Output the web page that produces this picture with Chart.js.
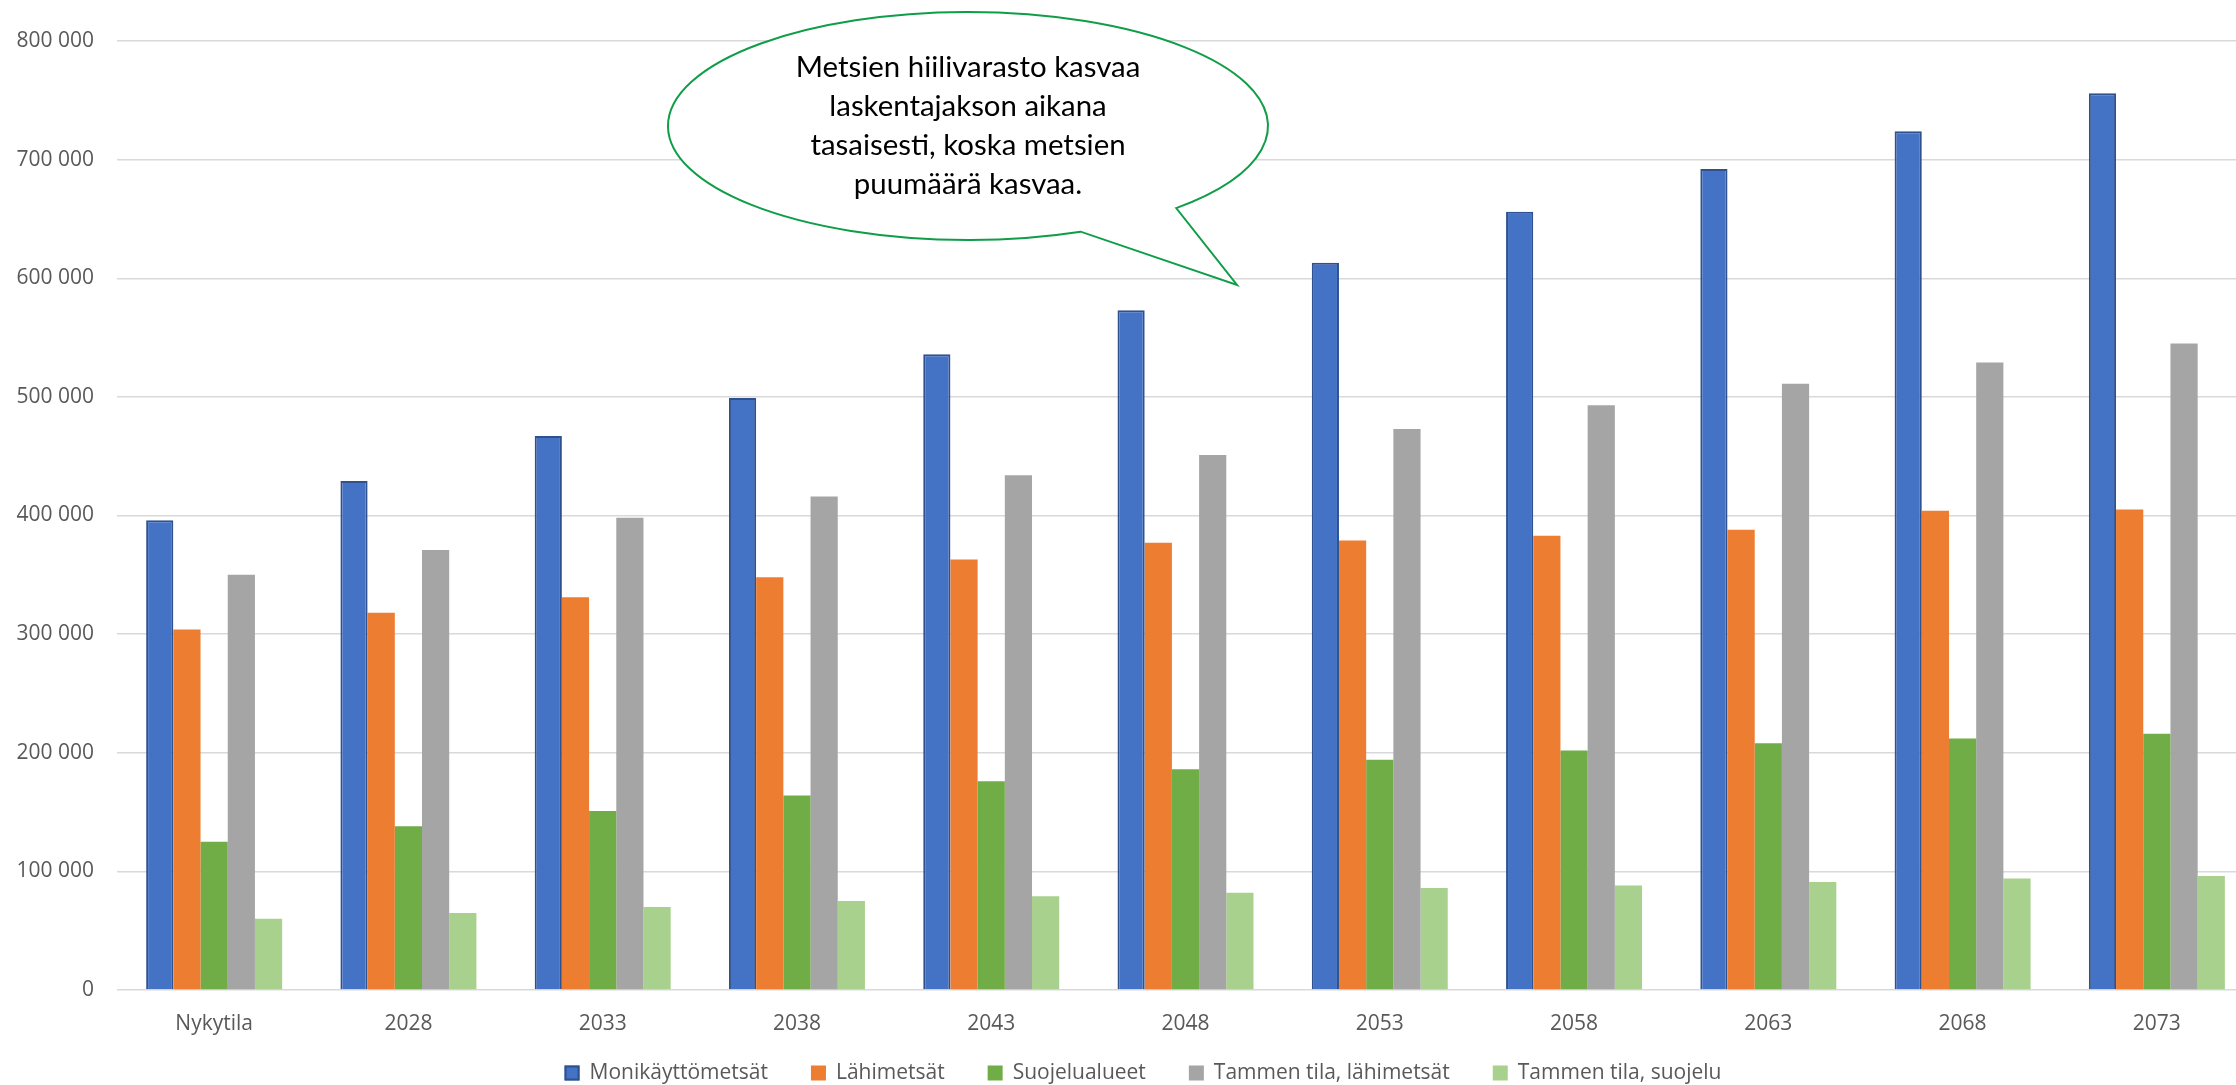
<!DOCTYPE html>
<html>
<head>
<meta charset="utf-8">
<script src="https://cdn.jsdelivr.net/npm/chart.js@4.4.0/dist/chart.umd.min.js"></script>
<style>
html, body { margin: 0; padding: 0; overflow: hidden; background: #fff; }
#wrap { width: 2286px; height: 1085px; }
</style>
</head>
<body>
<div id="wrap"><canvas id="hiili" width="2286" height="1085"></canvas></div>
<script>
const labels = ['Nykytila', '2028', '2033', '2038', '2043', '2048', '2053', '2058', '2063', '2068', '2073'];
const monikayttometsat = [396000, 429000, 467000, 499000, 536000, 573000, 613000, 656000, 692000, 724000, 756000];
const lahimetsat = [304000, 318000, 331000, 348000, 363000, 377000, 379000, 383000, 388000, 404000, 405000];
const suojelualueet = [125000, 138000, 151000, 164000, 176000, 186000, 194000, 202000, 208000, 212000, 216000];
const tammenLahimetsat = [350000, 371000, 398000, 416000, 434000, 451000, 473000, 493000, 511000, 529000, 545000];
const tammenSuojelu = [60000, 65000, 70000, 75000, 79000, 82000, 86000, 88000, 91000, 94000, 96000];
const yMax = 800000;
const yStep = 100000;
const calloutLines = ['Metsien hiilivarasto kasvaa', 'laskentajakson aikana', 'tasaisesti, koska metsien', 'puumäärä kasvaa.'];

Chart.defaults.font.family = "'Open Sans', sans-serif";
Chart.defaults.font.size = 21;
Chart.defaults.color = '#595959';

// selite piirretään itse, jotta sarjojen väli saadaan leveäksi
const bottomLegend = {
    id: 'bottomLegend',
    afterDraw(chart) {
        const ctx = chart.ctx;
        const box = 15, gap = 10, itemGap = 43, cy = 1073;
        ctx.save();
        ctx.font = "21px 'Open Sans'";
        ctx.textBaseline = 'middle';
        ctx.textAlign = 'left';
        const sets = chart.data.datasets;
        const widths = sets.map(ds => box + gap + ctx.measureText(ds.label).width);
        const total = widths.reduce((a, b) => a + b, 0) + itemGap * (sets.length - 1);
        let x = chart.width / 2 - total / 2;
        sets.forEach((ds, i) => {
            ctx.fillStyle = ds.backgroundColor;
            ctx.fillRect(x, cy - box / 2, box, box);
            if (ds.borderWidth) {
                ctx.lineWidth = ds.borderWidth;
                ctx.strokeStyle = ds.borderColor;
                ctx.strokeRect(x + 1, cy - box / 2 + 1, box - 2, box - 2);
            }
            ctx.fillStyle = '#595959';
            ctx.fillText(ds.label, x + box + gap, cy);
            x += widths[i] + itemGap;
        });
        ctx.restore();
    }
};

// puhekupla kaavion päälle
const calloutPlugin = {
    id: 'callout',
    afterDraw(chart) {
        const ctx = chart.ctx;
        const cx = 968, cy = 126, rx = 300, ry = 114;
        const a1 = Math.atan2((232 - cy) / ry, (1081 - cx) / rx);
        const a2 = Math.atan2((208 - cy) / ry, (1176 - cx) / rx) + Math.PI * 2;
        ctx.save();
        ctx.beginPath();
        ctx.ellipse(cx, cy, rx, ry, 0, a1, a2);
        ctx.lineTo(1237, 285);
        ctx.closePath();
        ctx.fillStyle = '#ffffff';
        ctx.fill();
        ctx.lineWidth = 2;
        ctx.strokeStyle = '#0f9d48';
        ctx.stroke();

        let size = 30;
        ctx.font = size + 'px Lato';
        size = size * 345 / ctx.measureText(calloutLines[0]).width;
        ctx.font = size.toFixed(1) + 'px Lato';
        ctx.fillStyle = '#000000';
        ctx.textAlign = 'center';
        ctx.textBaseline = 'middle';
        calloutLines.forEach((line, i) => {
            ctx.fillText(line, cx, 68 + i * 38.8);
        });
        ctx.restore();
    }
};

const ctxHiili = document.getElementById('hiili').getContext('2d');
const hiiliChart = new Chart(ctxHiili, {
    type: 'bar',
    data: {
        labels,
        datasets: [
            {
                label: 'Monikäyttömetsät',
                data: monikayttometsat,
                backgroundColor: '#4472C4',
                borderColor: '#2F528F',
                borderWidth: 2
            },
            {
                label: 'Lähimetsät',
                data: lahimetsat,
                backgroundColor: '#ED7D31',
                borderWidth: 0
            },
            {
                label: 'Suojelualueet',
                data: suojelualueet,
                backgroundColor: '#70AD47',
                borderWidth: 0
            },
            {
                label: 'Tammen tila, lähimetsät',
                data: tammenLahimetsat,
                backgroundColor: '#A5A5A5',
                borderWidth: 0
            },
            {
                label: 'Tammen tila, suojelu',
                data: tammenSuojelu,
                backgroundColor: '#A9D18E',
                borderWidth: 0
            }
        ]
    },
    options: {
        responsive: false,
        animation: false,
        datasets: {
            bar: {
                categoryPercentage: 0.70,
                barPercentage: 1.0
            }
        },
        layout: {
            padding: { top: 41, left: 0, right: 32, bottom: 49 }
        },
        plugins: {
            legend: { display: false },
            tooltip: { enabled: false }
        },
        scales: {
            x: {
                grid: { display: false, drawTicks: false },
                border: { display: false },
                ticks: { padding: 21, color: '#595959' },
                afterFit(axis) { axis.height = 46; }
            },
            y: {
                min: 0,
                max: yMax,
                grid: { color: '#D9D9D9', lineWidth: 1.5, drawTicks: false },
                border: { display: false },
                ticks: {
                    stepSize: yStep,
                    padding: 23,
                    color: '#595959',
                    callback: (v) => String(v).replace(/\B(?=(\d{3})+(?!\d))/g, ' ')
                },
                afterFit(axis) { axis.width = 117; }
            }
        }
    },
    plugins: [bottomLegend, calloutPlugin]
});
</script>
</body>
</html>
